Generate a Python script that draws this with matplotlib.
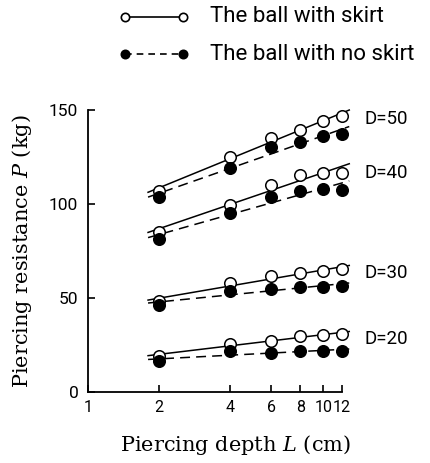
import numpy as np
import matplotlib.pyplot as plt
from matplotlib.lines import Line2D
from matplotlib.ticker import NullLocator

plt.rcParams['mathtext.fontset'] = 'dejavuserif'

HAND = ['Roboto', 'DejaVu Sans']

# Piercing depth L (cm)
depth = [2, 4, 6, 8, 10, 12]
depth_labels = ['1', '2', '4', '6', '8', '10', '12']
depth_ticks = [1, 2, 4, 6, 8, 10, 12]

# Ball diameters D
diameters = [50, 40, 30, 20]

# Piercing resistance P (kg), ball with skirt
skirt_d50 = [107.2, 125.0, 135.0, 139.5, 144.3, 146.8]
skirt_d40 = [85.2, 99.7, 109.9, 115.4, 116.7, 116.3]
skirt_d30 = [48.5, 57.8, 61.5, 63.2, 64.3, 65.6]
skirt_d20 = [19.3, 25.4, 27.4, 29.8, 30.2, 31.0]

# Piercing resistance P (kg), ball with no skirt
noskirt_d50 = [103.8, 119.3, 130.5, 133.0, 136.0, 137.0]
noskirt_d40 = [81.4, 95.5, 103.8, 107.0, 108.0, 107.6]
noskirt_d30 = [46.4, 53.5, 54.7, 56.0, 56.0, 56.5]
noskirt_d20 = [16.3, 21.6, 21.0, 21.6, 21.8, 22.0]

skirt_sets = [skirt_d50, skirt_d40, skirt_d30, skirt_d20]
noskirt_sets = [noskirt_d50, noskirt_d40, noskirt_d30, noskirt_d20]

fig = plt.figure(figsize=(4.31, 4.63), dpi=100)
ax = fig.add_axes([0.2042, 0.1533, 0.589, 0.609])
ax.set_xscale('log')
ax.set_xlim(1, 12)
ax.set_ylim(0, 150)

logL = np.log10(depth)
fit_x = np.array([1.8, 12.9])
ms = 8.3


def fit_line(values):
    k, b = np.polyfit(logL, values, 1)
    return k * np.log10(fit_x) + b, k * np.log10(12.0) + b


for d, s_vals, n_vals in zip(diameters, skirt_sets, noskirt_sets):
    s_line, s_end = fit_line(s_vals)
    n_line, n_end = fit_line(n_vals)
    ax.plot(fit_x, s_line, color='black', lw=1.1, ls='-', clip_on=False, zorder=2)
    ax.plot(fit_x, n_line, color='black', lw=1.1, ls=(0, (6.5, 4)), clip_on=False, zorder=2)
    ax.plot(depth, s_vals, ls='none', marker='o', ms=ms, mfc='white', mec='black',
            mew=1.1, clip_on=False, zorder=3)
    ax.plot(depth, n_vals, ls='none', marker='o', ms=ms, mfc='black', mec='black',
            mew=1.1, clip_on=False, zorder=4)
    ax.text(15.0, (s_end + n_end) / 2 + 1.0, f'D={d}', fontsize=13.5,
            ha='left', va='center', family=HAND)

for side in ('top', 'right'):
    ax.spines[side].set_visible(False)
for side in ('left', 'bottom'):
    ax.spines[side].set_linewidth(1.3)

ax.xaxis.set_minor_locator(NullLocator())
ax.set_xticks(depth_ticks)
ax.set_xticklabels(depth_labels, family=HAND)
ax.set_yticks([0, 50, 100, 150])
ax.set_yticklabels(['0', '50', '100', '150'], family=HAND)
ax.tick_params(axis='both', direction='in', length=5, width=1.2, labelsize=12.5)
ax.tick_params(axis='x', pad=6, labelsize=11.5)
ax.tick_params(axis='y', pad=7)

fig.text(236 / 431, 1 - 445 / 463, r'Piercing depth $L$ (cm)', family='DejaVu Serif',
         fontsize=15, ha='center', va='center')
fig.text(22 / 431, 1 - 251 / 463, r'Piercing resistance $P$ (kg)', family='DejaVu Serif',
         fontsize=15, ha='center', va='center', rotation=90)

# Legend drawn in figure coordinates
for y_px, face, style, label in [(17, 'white', '-', 'The ball with skirt'),
                                 (54, 'black', (0, (4, 3)), 'The ball with no skirt')]:
    yf = 1 - y_px / 463
    fig.add_artist(Line2D([125 / 431, 183 / 431], [yf, yf], color='black', lw=1.2,
                          ls=style, marker='o', ms=6, mfc=face, mec='black', mew=1.2))
    fig.text(210 / 431, yf, label, fontsize=16, ha='left', va='center', family=HAND)

fig.savefig('out.png', dpi=100)
